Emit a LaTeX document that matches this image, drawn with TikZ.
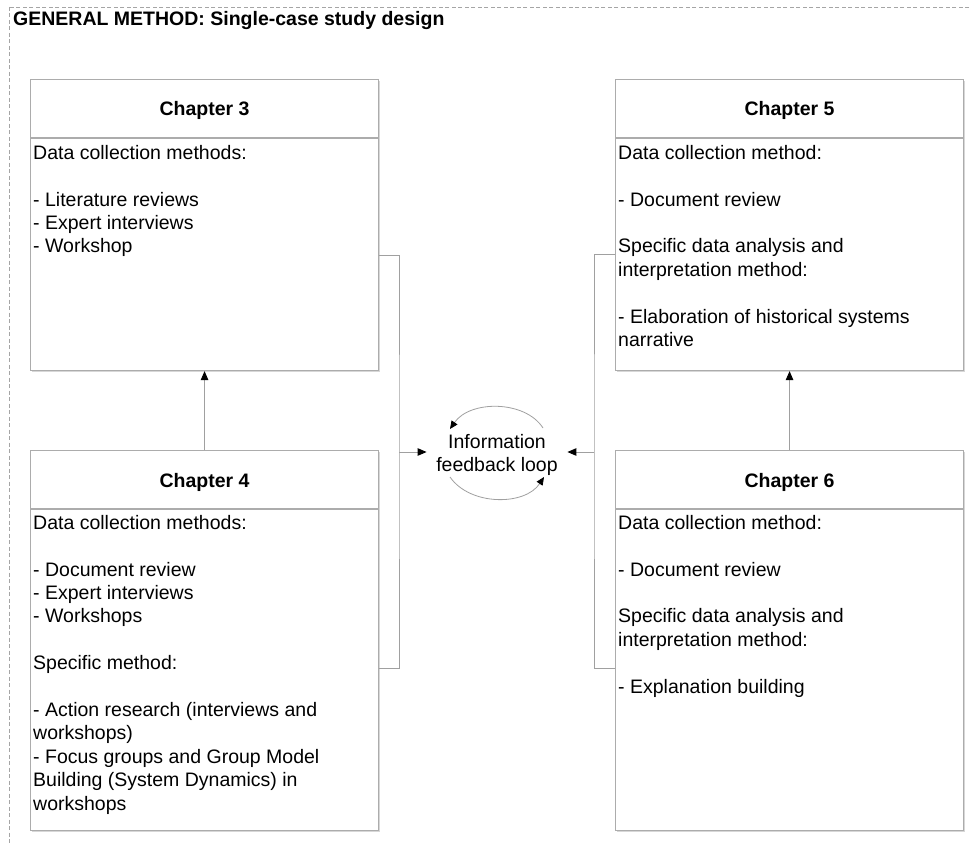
\documentclass[tikz,border=0pt]{standalone}
\usepackage{fontspec}
\setmainfont{Liberation Sans}
\usetikzlibrary{arrows.meta,calc}

\newcommand\txtsize{\fontsize{19.5}{23.4}\selectfont}
\definecolor{boxline}{RGB}{172,172,172}
\definecolor{boxshade}{RGB}{215,215,215}
\definecolor{connline}{RGB}{160,160,160}
\definecolor{framedash}{RGB}{165,165,165}

\begin{document}
\begin{tikzpicture}[x=1pt,y=-1pt,
  chbox/.style={draw=boxline, line width=1.1pt, fill=white, inner sep=0pt,
                minimum width=348pt, anchor=north west},
  headtext/.style={font=\txtsize\bfseries, inner sep=0pt, anchor=base},
  bodytext/.style={font=\txtsize, align=left, inner sep=0pt, anchor=north west},
  conn/.style={draw=connline, line width=0.9pt},
  tip/.style={-{Triangle[length=9pt,width=7.5pt,color=black,fill=black]}},
  looparc/.style={draw=connline, line width=0.8pt,
                  -{Triangle[length=8pt,width=7pt,color=black,fill=black]}}
]
\useasboundingbox (0,0) rectangle (971,845);
\clip (0,0) rectangle (971,845);
\fill[white] (0,0) rectangle (971,845);

% outer dashed frame of the method
\draw[framedash, line width=0.9pt, dash pattern=on 4pt off 2.5pt]
  (9,7) rectangle (1000,900);
\node[font=\txtsize\bfseries, inner sep=0pt, anchor=base west] (title) at (13,26)
  {GENERAL METHOD: Single-case study design};

% chapter boxes with soft shadows
\foreach \bx/\by/\bh in {30/79/291, 30/450/380, 615/79/291, 615/450/380}{
  \fill[boxshade] (\bx+2,\by+2) rectangle (\bx+350,\by+\bh+2);
}
\node[chbox, minimum height=291pt] (c3) at (30,79) {};
\node[chbox, minimum height=380pt] (c4) at (30,450) {};
\node[chbox, minimum height=291pt] (c5) at (615,79) {};
\node[chbox, minimum height=380pt] (c6) at (615,450) {};

% header dividers
\foreach \b in {c3,c4,c5,c6}{
  \draw[boxline, line width=1.1pt] ($(\b.north west)+(0,59)$) -- ($(\b.north east)+(0,59)$);
}

% headers
\node[headtext] (c3h) at ($(c3.north)+(0,37)$) {Chapter 3};
\node[headtext] (c4h) at ($(c4.north)+(0,37)$) {Chapter 4};
\node[headtext] (c5h) at ($(c5.north)+(0,37)$) {Chapter 5};
\node[headtext] (c6h) at ($(c6.north)+(0,37)$) {Chapter 6};

% box contents
\node[bodytext] (c3b) at ($(c3.north west)+(3,66)$)
  {Data collection methods:\\ \mbox{}\\- Literature reviews\\- Expert interviews\\- Workshop};
\node[bodytext] (c4b) at ($(c4.north west)+(3,65)$)
  {Data collection methods:\\ \mbox{}\\- Document review\\- Expert interviews\\- Workshops\\ \mbox{}\\
   Specific method:\\ \mbox{}\\- Action research (interviews and\\workshops)\\
   - Focus groups and Group Model\\Building (System Dynamics) in\\workshops};
\node[bodytext] (c5b) at ($(c5.north west)+(3,66)$)
  {Data collection method:\\ \mbox{}\\- Document review\\ \mbox{}\\Specific data analysis and\\
   interpretation method:\\ \mbox{}\\- Elaboration of historical systems\\narrative};
\node[bodytext] (c6b) at ($(c6.north west)+(3,65)$)
  {Data collection method:\\ \mbox{}\\- Document review\\ \mbox{}\\Specific data analysis and\\
   interpretation method:\\ \mbox{}\\- Explanation building};

% vertical links between stacked chapters
\draw[conn, tip] (c4.north) -- (c3.south);
\draw[conn, tip] (c6.north) -- (c5.south);

% central feedback loop
\node[font=\txtsize, align=center, inner xsep=9.5pt, inner ysep=0pt] (loop) at (497,455)
  {Information\\feedback loop};

\coordinate (jl) at (399,452);
\coordinate (jr) at (594,452);
\draw[conn] ($(c3.north east)+(0,176)$) -| (jl) |- ($(c4.north east)+(0,218)$);
\draw[conn] ($(c5.north west)+(0,175)$) -| (jr) |- ($(c6.north west)+(0,218)$);
\draw[conn, tip] (jl) -- (jl -| loop.west);
\draw[conn, tip] (jr) -- (jr -| loop.east);

\coordinate (a1) at (543,428);
\coordinate (a2) at (450,429);
\coordinate (b1) at (450,477);
\coordinate (b2) at (544,477);
\draw[looparc] (a1) .. controls (525,400) and (470,400) .. (a2);
\draw[looparc] (b1) .. controls (470,506) and (525,506) .. (b2);
\end{tikzpicture}
\end{document}
